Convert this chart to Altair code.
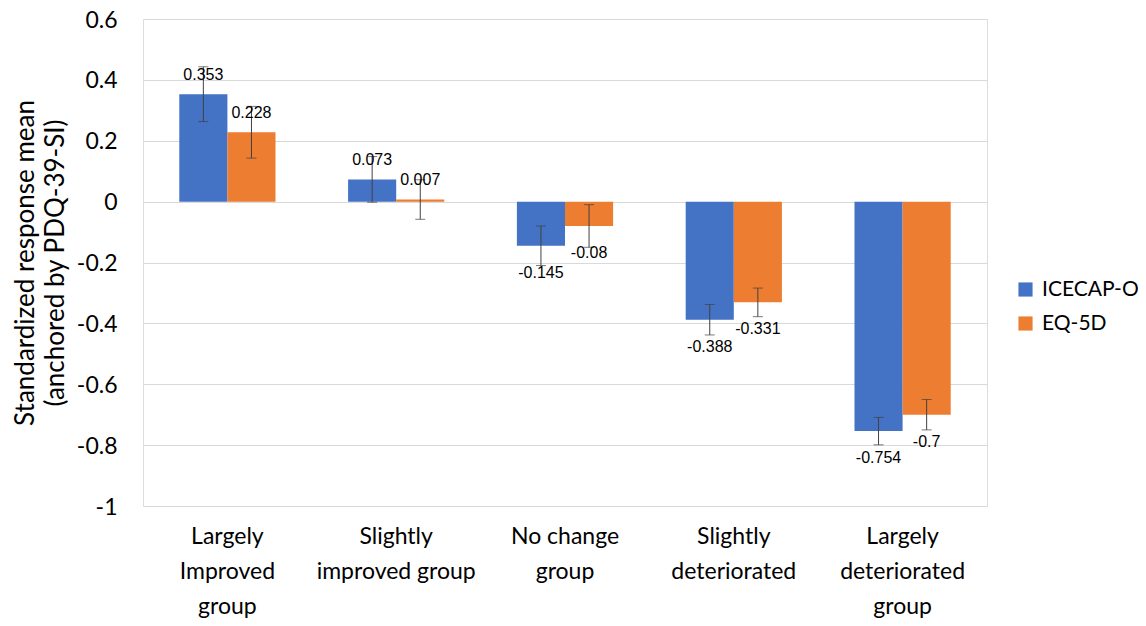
import altair as alt
import pandas as pd

categories = ["Largely Improved group", "Slightly improved group", "No change group",
              "Slightly deteriorated", "Largely deteriorated group"]
cat_lines = [["Largely", "Improved", "group"], ["Slightly", "improved group"],
             ["No change", "group"], ["Slightly", "deteriorated"],
             ["Largely", "deteriorated", "group"]]
series = ["ICECAP-O", "EQ-5D"]
icecap = [0.353, 0.073, -0.145, -0.388, -0.754]
eq5d = [0.228, 0.007, -0.08, -0.331, -0.7]
icecap_err = [0.09, 0.075, 0.065, 0.05, 0.045]
eq5d_err = [0.085, 0.065, 0.07, 0.047, 0.05]
colors = ["#4472C4", "#ED7D31"]

rows = []
for i, c in enumerate(categories):
    for s, vals, errs in [(series[0], icecap, icecap_err), (series[1], eq5d, eq5d_err)]:
        v = vals[i]
        e = errs[i]
        rows.append({"category": c, "series": s, "value": v,
                     "lo": v - e, "hi": v + e, "label": str(v)})
df = pd.DataFrame(rows)

label_map = "{" + ",".join(
    "'%s': [%s]" % (c, ",".join("'%s'" % l for l in ls)) for c, ls in zip(categories, cat_lines)
) + "}"

x = alt.X("category:N", sort=categories, title=None,
          scale=alt.Scale(paddingInner=0.43, paddingOuter=0.215),
          axis=alt.Axis(labelAngle=0, ticks=False, domain=False, labelPadding=19,
                        labelFont="Lato", labelFontSize=23, labelColor="#000000",
                        labelLineHeight=35, labelBaseline="top",
                        labelExpr=label_map + "[datum.label]"))
xoff = alt.XOffset("series:N", sort=series)
yscale = alt.Scale(domain=[-1, 0.6], nice=False)

bars = alt.Chart(df).mark_bar().encode(
    x=x, xOffset=xoff,
    y=alt.Y("value:Q", scale=yscale,
            title=["Standardized response mean", "(anchored by PDQ-39-SI)"],
            axis=alt.Axis(values=[-1, -0.8, -0.6, -0.4, -0.2, 0, 0.2, 0.4, 0.6],
                          labelExpr="replace(format(datum.value, '~g'), '\u2212', '-')",
                          ticks=False, domain=False, labelPadding=26,
                          labelBaseline="alphabetic", labelOffset=8,
                          labelFont="Lato", labelFontSize=23, labelColor="#000000",
                          titleFont="Lato", titleFontSize=26, titleFontWeight="normal",
                          titleColor="#000000", titlePadding=8, titleLineHeight=30,
                          gridColor="#d9d9d9", gridWidth=1.2)),
    y2=alt.datum(0),
    color=alt.Color("series:N", sort=series,
                    scale=alt.Scale(domain=series, range=colors),
                    legend=alt.Legend(title=None, orient="none", legendX=872, legendY=260,
                                      symbolType="square", symbolSize=200,
                                      symbolStrokeWidth=0, labelFont="Lato",
                                      labelFontSize=21, labelColor="#000000",
                                      rowPadding=12, labelOffset=6)),
)

err = alt.Chart(df).mark_rule(color="#404040", strokeWidth=1).encode(
    x=x, xOffset=xoff, y=alt.Y("lo:Q", scale=yscale), y2="hi:Q")

caps_lo = alt.Chart(df).mark_tick(color="#404040", thickness=1, size=10).encode(
    x=x, xOffset=xoff, y=alt.Y("lo:Q", scale=yscale))
caps_hi = alt.Chart(df).mark_tick(color="#404040", thickness=1, size=10).encode(
    x=x, xOffset=xoff, y=alt.Y("hi:Q", scale=yscale))

pos_text = alt.Chart(df).transform_filter("datum.value >= 0").mark_text(
    baseline="middle", dy=-19, font="Liberation Sans", fontSize=16, color="#000000").encode(
    x=x, xOffset=xoff, y=alt.Y("value:Q", scale=yscale), text="label:N")
neg_text = alt.Chart(df).transform_filter("datum.value < 0").mark_text(
    baseline="middle", dy=27, font="Liberation Sans", fontSize=16, color="#000000").encode(
    x=x, xOffset=xoff, y=alt.Y("value:Q", scale=yscale), text="label:N")

chart = alt.layer(bars, err, caps_lo, caps_hi, pos_text, neg_text).properties(
    width=844, height=487,
    autosize=alt.AutoSizeParams(type="none"),
    padding={"left": 135, "top": 11, "right": 151, "bottom": 112},
).configure_view(stroke=None).configure(background="#ffffff")

chart.save("out.html", embed_options={"renderer": "svg", "actions": False})
